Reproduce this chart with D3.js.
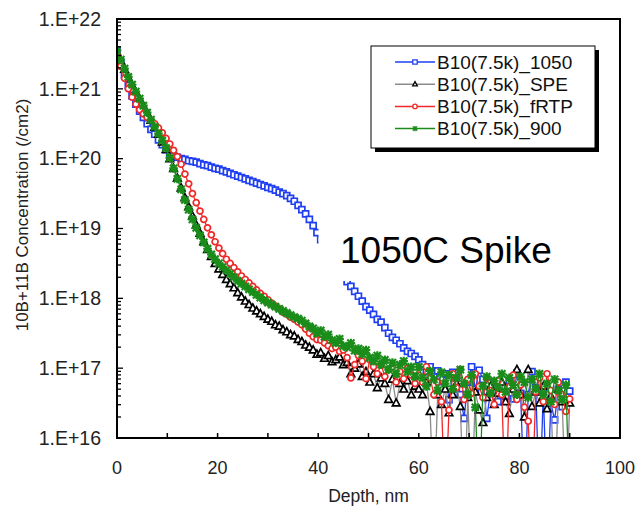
<!DOCTYPE html>
<html><head><meta charset="utf-8">
<script src="https://cdn.jsdelivr.net/npm/d3@7"></script>
<style>body{margin:0;background:#fff;}svg{display:block;font-family:"Liberation Sans",Arial,sans-serif;}</style>
</head><body>
<svg id="chart" width="640" height="511"></svg>
<script>
// Depth (nm)
const depth = [0,0.75,1.5,2.25,3,3.75,4.5,5.25,6,6.75,7.5,8.25,9,9.75,10.5,11.25,12,12.75,13.5,14.25,15,15.75,16.5,17.25,18,18.75,19.5,20.25,21,21.75,22.5,23.25,24,24.75,25.5,26.25,27,27.75,28.5,29.25,30,30.75,31.5,32.25,33,33.75,34.5,35.25,36,36.75,37.5,38.25,39,39.75,40.5,41.25,42,42.75,43.5,44.25,45,45.75,46.5,47.25,48,48.75,49.5,50.25,51,51.75,52.5,53.25,54,54.75,55.5,56.25,57,57.75,58.5,59.25,60,60.75,61.5,62.25,63,63.75,64.5,65.25,66,66.75,67.5,68.25,69,69.75,70.5,71.25,72,72.75,73.5,74.25,75,75.75,76.5,77.25,78,78.75,79.5,80.25,81,81.75,82.5,83.25,84,84.75,85.5,86.25,87,87.75,88.5,89.25,90];
// log10 of concentration (/cm2); 15.0 = below detection (zero)
const log1050 = [21.55,21.38,21.20,21.05,20.90,20.78,20.68,20.59,20.50,20.42,20.35,20.27,20.20,20.13,20.08,20.04,20.02,20.00,19.99,19.97,19.96,19.95,19.93,19.91,19.90,19.88,19.86,19.85,19.83,19.81,19.79,19.77,19.75,19.73,19.71,19.69,19.67,19.65,19.63,19.61,19.59,19.57,19.55,19.52,19.50,19.47,19.43,19.39,19.33,19.27,19.21,19.13,19.04,18.94,18.84,18.74,18.64,18.55,18.46,18.38,18.31,18.24,18.17,18.10,18.03,17.96,17.88,17.83,17.77,17.70,17.66,17.58,17.50,17.44,17.40,17.35,17.29,17.24,17.21,17.17,17.12,17.05,16.95,17.02,16.88,16.96,16.72,16.92,16.55,16.94,16.86,16.62,16.28,16.80,17.02,16.70,16.97,16.84,16.28,16.66,16.80,16.52,16.74,16.60,16.82,16.56,16.93,16.64,15.0,16.62,16.95,16.72,15.0,16.66,15.0,16.50,16.26,16.70,16.45,16.80,16.67];
const logSPE = [21.52,21.40,21.28,21.16,21.05,20.95,20.85,20.75,20.65,20.55,20.45,20.35,20.24,20.13,20.00,19.86,19.72,19.58,19.44,19.31,19.18,19.05,18.93,18.81,18.70,18.60,18.50,18.42,18.34,18.27,18.21,18.15,18.08,18.02,17.96,17.91,17.86,17.82,17.78,17.74,17.70,17.67,17.62,17.60,17.55,17.52,17.48,17.46,17.41,17.38,17.33,17.30,17.26,17.20,17.22,17.14,17.18,17.09,17.12,17.16,17.05,17.08,16.92,17.00,17.06,16.88,16.95,16.80,16.92,16.72,16.86,16.78,16.55,16.84,16.50,16.78,16.70,16.82,16.62,16.74,16.70,16.62,16.80,16.38,15.0,16.62,16.48,16.70,16.36,16.62,16.78,16.45,15.0,16.58,15.0,16.66,16.40,16.22,16.58,16.74,16.48,16.64,16.80,16.52,16.35,16.70,16.98,16.62,16.30,16.98,16.45,16.66,16.50,16.74,16.42,16.60,15.0,16.70,16.52,15.0,16.50];
const logFRTP = [21.50,21.32,21.15,21.00,20.88,20.78,20.70,20.64,20.59,20.55,20.50,20.44,20.37,20.29,20.21,20.12,20.03,19.92,19.78,19.64,19.50,19.37,19.25,19.13,19.01,18.91,18.81,18.72,18.64,18.56,18.50,18.44,18.38,18.32,18.27,18.22,18.17,18.12,18.07,18.03,17.98,17.93,17.89,17.85,17.80,17.77,17.73,17.70,17.66,17.62,17.56,17.50,17.45,17.41,17.40,17.36,17.32,17.28,17.30,17.24,17.26,17.15,16.86,17.05,17.18,17.10,16.85,17.12,17.02,16.92,17.05,16.88,16.98,17.02,16.80,16.95,16.85,17.00,16.90,16.78,16.90,16.80,17.02,16.86,16.62,16.80,16.52,15.0,16.40,16.92,16.72,16.98,16.55,16.84,16.64,16.92,16.74,16.58,16.86,16.68,16.48,16.82,16.62,15.0,16.74,16.90,16.55,16.76,16.44,16.24,15.0,16.66,16.86,16.52,16.92,16.68,16.48,16.80,16.62,16.38,16.56];
const log900 = [21.55,21.42,21.29,21.17,21.06,20.96,20.86,20.76,20.66,20.56,20.46,20.36,20.26,20.15,20.01,19.86,19.71,19.56,19.41,19.27,19.13,19.01,18.90,18.80,18.71,18.63,18.56,18.50,18.45,18.40,18.35,18.30,18.25,18.21,18.17,18.13,18.09,18.05,18.01,17.97,17.94,17.91,17.88,17.85,17.82,17.79,17.76,17.73,17.71,17.68,17.64,17.60,17.57,17.50,17.54,17.45,17.48,17.40,17.36,17.42,17.32,17.30,17.36,17.25,17.28,17.20,17.26,17.15,17.10,17.18,17.05,17.12,16.98,17.08,16.92,17.05,17.10,16.95,17.02,16.88,17.02,16.86,16.74,16.96,16.84,16.68,16.94,16.78,16.90,16.70,16.86,16.98,16.78,16.62,16.90,16.44,15.0,16.74,16.88,16.64,16.82,16.72,16.92,16.66,16.86,16.76,16.62,16.88,16.80,16.58,16.84,16.70,16.92,16.62,16.78,16.52,16.84,16.68,16.55,16.76,15.0];

const seriesNames = ["B10(7.5k)_1050","B10(7.5k)_SPE","B10(7.5k)_fRTP","B10(7.5k)_900"];
const xTicks = [0,20,40,60,80,100];
const yTickLabels = ["1.E+16","1.E+17","1.E+18","1.E+19","1.E+20","1.E+21","1.E+22"];
const xTitle = "Depth, nm";
const yTitle = "10B+11B Concentration (/cm2)";
const annotation = "1050C Spike";

const svg = d3.select("#chart");
const L = 117, T = 19, R = 620, B = 438;
const x = d3.scaleLinear().domain([0,100]).range([L,R]);
const y = d3.scaleLog().domain([1e16,1e22]).range([B,T]);

const styles = [
  {line:"#1f3ff0", stroke:"#1f3ff0", marker:"square"},
  {line:"#8c8c8c", stroke:"#000000", marker:"triangle"},
  {line:"#f02828", stroke:"#f02828", marker:"circle"},
  {line:"#1a8c1a", stroke:"#1a8c1a", marker:"star"}
];
const logs = [log1050, logSPE, logFRTP, log900];
const series = logs.map((arr,k)=>({name:seriesNames[k], st:styles[k], pts:arr.map((v,i)=>({d:depth[i], c:Math.pow(10,v)}))}));

svg.append("defs").append("clipPath").attr("id","clip").append("rect")
  .attr("x",L).attr("y",T).attr("width",R-L).attr("height",B-T);

function markerPath(type, s){
  if(type==="square") return `M${-s},${-s}H${s}V${s}H${-s}Z`;
  if(type==="triangle") return `M0,${-s*1.15}L${s*1.05},${s*0.8}L${-s*1.05},${s*0.8}Z`;
  if(type==="circle") return d3.symbol(d3.symbolCircle, Math.PI*s*s)();
  if(type==="star") return `M${-s},${-s}L${s},${s}M${-s},${s}L${s},${-s}M0,${-s*1.2}V${s*1.2}M${-s*1.2},0H${s*1.2}`;
}

const plot = svg.append("g").attr("clip-path","url(#clip)");
const line = d3.line().x(p=>x(p.d)).y(p=>y(p.c));
series.forEach(s=>{
  const g = plot.append("g");
  g.append("path").attr("d",line(s.pts)).attr("fill","none").attr("stroke",s.st.line).attr("stroke-width",1.3);
  const size = s.st.marker==="star"?3.6:(s.st.marker==="triangle"?3.6:3.0);
  g.selectAll("path.m").data(s.pts).join("path").attr("class","m")
    .attr("transform",p=>`translate(${x(p.d)},${y(p.c)})`)
    .attr("d",markerPath(s.st.marker,size))
    .attr("fill",s.st.marker==="star"?"none":"#fff")
    .attr("stroke",s.st.stroke).attr("stroke-width",s.st.marker==="star"?2.2:1.7);
});

// white annotation box hiding part of the curve
svg.append("rect").attr("x",318.5).attr("y",224).attr("width",240).attr("height",57).attr("fill","#fff");
svg.append("text").attr("x",340).attr("y",263).attr("font-size",37).attr("fill","#000").text(annotation);

// frame
svg.append("rect").attr("x",L).attr("y",T).attr("width",R-L).attr("height",B-T)
  .attr("fill","none").attr("stroke","#000").attr("stroke-width",2);

// x ticks (inside)
const xt = svg.append("g");
d3.range(0,101,10).forEach(v=>{
  xt.append("line").attr("x1",x(v)).attr("x2",x(v)).attr("y1",B).attr("y2",B-5).attr("stroke","#000").attr("stroke-width",1.5);
});
xt.selectAll("text").data(xTicks).join("text")
  .attr("x",d=>x(d)).attr("y",474).attr("text-anchor","middle").attr("font-size",18).attr("fill","#222").text(d=>d);

// y ticks (inside)
const yt = svg.append("g");
for(let e=16;e<22;e++){
  for(let m=1;m<10;m++){
    const v = m*Math.pow(10,e);
    yt.append("line").attr("x1",L).attr("x2",L+(m===1?6:4)).attr("y1",y(v)).attr("y2",y(v)).attr("stroke","#000").attr("stroke-width",1.3);
  }
}
yt.selectAll("text").data(yTickLabels).join("text")
  .attr("x",101).attr("y",(d,i)=>y(Math.pow(10,16+i))).attr("dy","0.35em")
  .attr("text-anchor","end").attr("font-size",19.5).attr("fill","#222").text(d=>d);

svg.append("text").attr("x",(L+R)/2).attr("y",502).attr("text-anchor","middle").attr("font-size",17.5).attr("fill","#222").text(xTitle);
svg.append("text").attr("transform","translate(28,215) rotate(-90)").attr("text-anchor","middle").attr("font-size",17).attr("fill","#222").text(yTitle);

// legend
const lg = svg.append("g");
lg.append("rect").attr("x",375).attr("y",50).attr("width",224).attr("height",102).attr("fill","#000");
lg.append("rect").attr("x",371).attr("y",46).attr("width",224).attr("height",102).attr("fill","#fff").attr("stroke","#000").attr("stroke-width",1);
series.forEach((s,k)=>{
  const cy = 62 + k*22.2;
  lg.append("line").attr("x1",395).attr("x2",435).attr("y1",cy).attr("y2",cy).attr("stroke",s.st.line).attr("stroke-width",1.5);
  lg.append("path").attr("transform",`translate(415,${cy})`).attr("d",markerPath(s.st.marker,2.2))
    .attr("fill",s.st.marker==="star"?"none":"#fff").attr("stroke",s.st.stroke).attr("stroke-width",1.3);
  lg.append("text").attr("x",437).attr("y",cy).attr("dy","0.35em").attr("font-size",19).attr("fill","#111").text(s.name);
});
</script>
</body></html>
